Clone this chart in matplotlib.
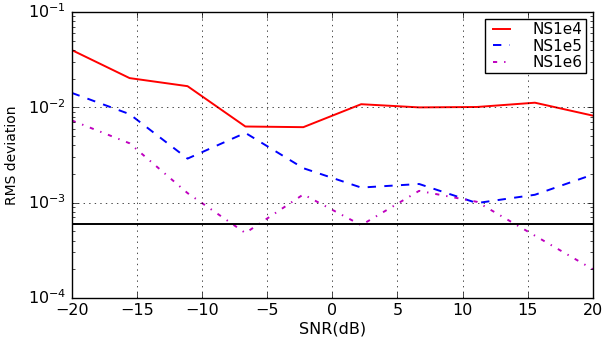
import matplotlib
matplotlib.use("Agg")
import matplotlib.pyplot as plt
import numpy as np

plt.style.use("classic")

snr = [-20, -15.56, -11.11, -6.67, -2.22, 2.22, 6.67, 11.11, 15.56, 20]
ns1e4 = [0.040, 0.0203, 0.0167, 0.0063, 0.0062, 0.0108, 0.0100, 0.0101, 0.0112, 0.0082]
ns1e5 = [0.0142, 0.0085, 0.0029, 0.0054, 0.0023, 0.00144, 0.00157, 0.00099, 0.00121, 0.00197]
ns1e6 = [0.0073, 0.0042, 0.00126, 0.00048, 0.00122, 0.00058, 0.00133, 0.00102, 0.00045, 0.00020]
threshold = 0.00059
labels = ["NS1e4", "NS1e5", "NS1e6"]

fig = plt.figure(figsize=(6.03, 3.37), dpi=100, facecolor="white")
ax = fig.add_axes([0.119, 0.116, 0.864, 0.848])
ax.semilogy(snr, ns1e4, "r-", lw=1.4, label=labels[0])
ax.semilogy(snr, ns1e5, "b--", lw=1.4, label=labels[1])
ax.semilogy(snr, ns1e6, "m-.", lw=1.4, label=labels[2])
ax.axhline(threshold, color="k", lw=1.4)
ax.set_xlim(-20, 20)
ax.set_ylim(1e-4, 1e-1)
ax.grid(True, which="major", linestyle=":", color="k")
ax.set_xlabel("SNR(dB)", fontsize=11.5, labelpad=2)
ax.set_ylabel("RMS deviation", fontsize=10, labelpad=6)
ax.tick_params(labelsize=11.5)
ax.legend(loc="upper right", fontsize=11, handlelength=1.7, handletextpad=1.2,
          labelspacing=0.1, borderpad=0.2, borderaxespad=0.45)
fig.savefig("out.png", dpi=100, facecolor="white")
